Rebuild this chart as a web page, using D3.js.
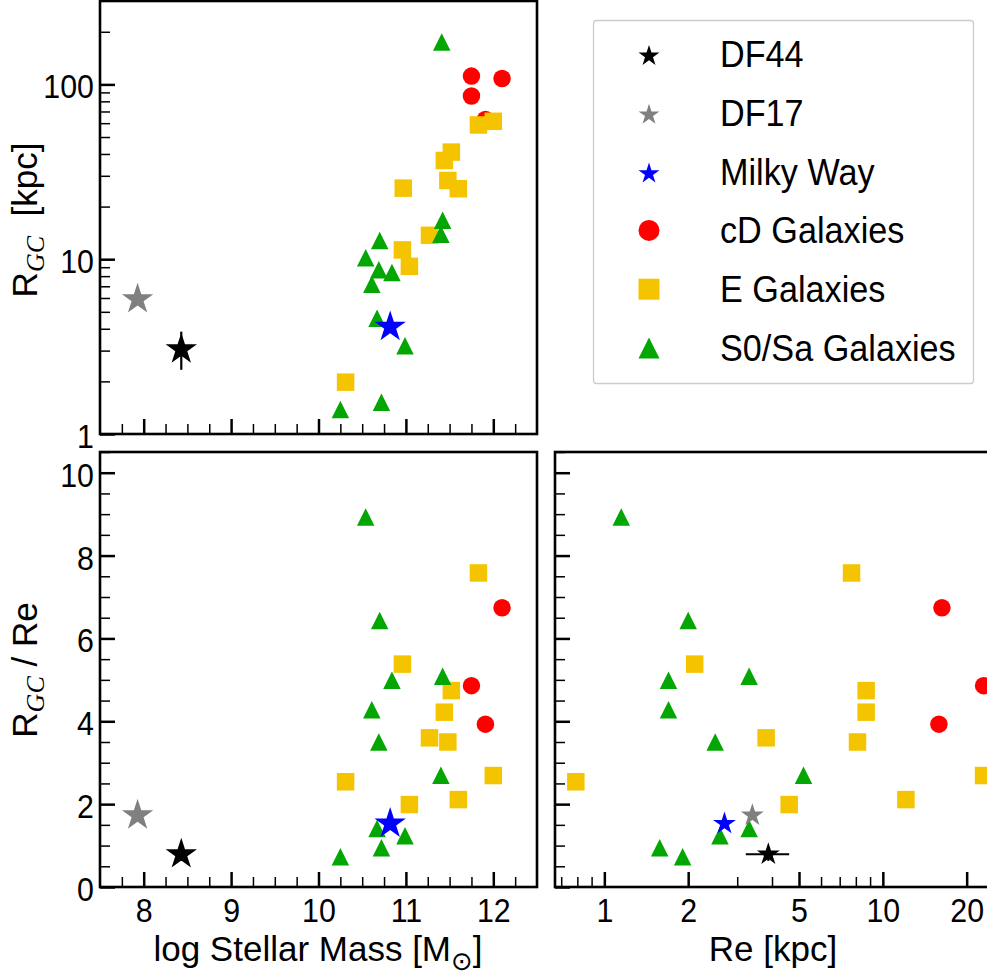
<!DOCTYPE html>
<html><head><meta charset="utf-8">
<script src="https://cdn.jsdelivr.net/npm/d3@7"></script>
<style>
body{margin:0;background:#fff}
svg{display:block}
text{font-family:"Liberation Sans",Arial,sans-serif;fill:#000}
</style>
</head><body>
<svg id="c" width="987" height="977"></svg>
<script>
// ---------------- DATA ----------------
// cD galaxies
const cdMass  = [11.75, 11.75, 12.10, 11.91];
const cdRgc   = [111.6, 85.8, 108.0, 63.0];
const cdRatio = [4.86, null, 6.74, 3.93];
const cdRe    = [23.0, null, 16.3, 15.9];
// E galaxies
const eMass  = [10.31, 10.97, 10.96, 11.04, 11.27, 11.44, 11.52, 11.48, 11.60, 11.83, 12.00];
const eRgc   = [1.98, 25.5, 11.3, 9.1, 13.7, 36.7, 41.0, 28.2, 25.3, 58.6, 61.5];
const eRatio = [2.54, null, 5.38, 1.99, 3.60, 4.22, 4.74, 3.50, 2.11, 7.58, 2.69];
const eRe    = [0.79, null, 2.11, 4.61, 3.81, 8.71, 8.71, 8.11, 12.1, 7.72, 23.0];
// S0/Sa galaxies
const sMass  = [11.41, 11.42, 11.40, 10.70, 10.54, 10.69, 10.84, 10.61, 10.67, 10.99, 10.72, 10.25];
const sRgc   = [175, 16.7, 13.9, 12.8, 10.2, 8.7, 8.4, 7.2, 4.6, 3.2, 1.52, 1.38];
const sRatio = [null, 5.09, 2.70, 6.43, 8.93, 3.50, 4.99, 4.28, 1.41, 1.24, 0.95, 0.73];
const sRe    = [null, 3.31, 5.19, 2.00, 1.15, 2.50, 1.70, 1.70, 3.31, 2.60, 1.58, 1.91];
// Individual objects: DF44, DF17, Milky Way
const starNames  = ["DF44", "DF17", "Milky Way"];
const starMass   = [8.43, 7.93, 10.82];
const starRgc    = [3.05, 5.9, 4.1];
const starRatio  = [0.79, 1.73, 1.53];
const starRe     = [3.88, 3.40, 2.70];
const df44RgcErr   = [2.33, 3.85];
const df44RatioErr = [0.63, 0.96];
const df44ReErr    = [3.22, 4.61];
// Ticks
const massMajor = [8, 9, 10, 11, 12];
const massMinor = [7.75, 8.25, 8.5, 8.75, 9.25, 9.5, 9.75, 10.25, 10.5, 10.75, 11.25, 11.5, 11.75, 12.25];
const rgcMajor = [1, 10, 100];
const rgcMinor = [2, 3, 4, 5, 6, 7, 8, 9, 20, 30, 40, 50, 60, 70, 80, 90, 200];
const ratioMajor = [0, 2, 4, 6, 8, 10];
const ratioMinor = [0.5, 1, 1.5, 2.5, 3, 3.5, 4.5, 5, 5.5, 6.5, 7, 7.5, 8.5, 9, 9.5, 10.5];
const reMajor = [1, 2, 5, 10, 20];
const reMinor = [0.7, 0.8, 0.9, 3, 4, 6, 7, 8, 9];
const legendLabels = ["DF44", "DF17", "Milky Way", "cD Galaxies", "E Galaxies", "S0/Sa Galaxies"];

// ---------------- STYLE ----------------
const C = {df44: "#000000", df17: "#808080", mw: "#0000ff", cd: "#ff0000", e: "#f5c400", s: "#04a604"};
const starColors = [C.df44, C.df17, C.mw];
const FONT = '"Liberation Sans",Arial,sans-serif';

const svg = d3.select("#c");

const xMass  = d3.scaleLinear().domain([7.5, 12.5]).range([100, 537]);
const yRgc   = d3.scaleLog().domain([1, 300]).range([434, 1]);
const yRatio = d3.scaleLinear().domain([0, 10.5]).range([887, 452]);
const xRe    = d3.scaleLog().domain([0.665, 25.7]).range([555, 997]);

const MS = 17.5; // marker size
const KA = 0.8908130915292852;
const circleSym = d3.symbol().type(d3.symbolCircle).size(Math.PI * (MS/2) * (MS/2));
const squareSym = d3.symbol().type(d3.symbolSquare).size(MS * MS);
function triPath(s){ const h = s/2; return `M0,${-h}L${h},${h}L${-h},${h}Z`; }
function starSym(R){ return d3.symbol().type(d3.symbolStar).size(R*R/KA)(); }

function panel(id, xs, ys, xv, yv, starR, err) {
  const [x0, x1] = xs.range(); const [y0, y1] = ys.range();
  svg.append("clipPath").attr("id", id).append("rect")
    .attr("x", x0).attr("y", Math.min(y0,y1)).attr("width", x1 - x0).attr("height", Math.abs(y0 - y1));
  const g = svg.append("g").attr("clip-path", `url(#${id})`);
  const pts = (xa, ya) => xa.map((d, i) => [d, ya[i]]).filter(p => p[0] != null && p[1] != null);
  g.selectAll(".cd").data(pts(xv.cd, yv.cd)).join("path")
    .attr("d", circleSym).attr("fill", C.cd)
    .attr("transform", d => `translate(${xs(d[0])},${ys(d[1])})`);
  g.selectAll(".e").data(pts(xv.e, yv.e)).join("path")
    .attr("d", squareSym).attr("fill", C.e)
    .attr("transform", d => `translate(${xs(d[0])},${ys(d[1])})`);
  g.selectAll(".s").data(pts(xv.s, yv.s)).join("path")
    .attr("d", triPath(MS)).attr("fill", C.s)
    .attr("transform", d => `translate(${xs(d[0])},${ys(d[1])})`);
  const ex = xv.star[0], ey = yv.star[0];
  if (err.y) g.append("line").attr("x1", xs(ex)).attr("x2", xs(ex)).attr("y1", ys(err.y[0])).attr("y2", ys(err.y[1]))
      .attr("stroke", C.df44).attr("stroke-width", 2.2);
  if (err.x) g.append("line").attr("y1", ys(ey)).attr("y2", ys(ey)).attr("x1", xs(err.x[0])).attr("x2", xs(err.x[1]))
      .attr("stroke", C.df44).attr("stroke-width", 2.2);
  [2, 1, 0].forEach(i => {
    g.append("path").attr("d", starSym(starR)).attr("fill", starColors[i])
      .attr("transform", `translate(${xs(xv.star[i])},${ys(yv.star[i])})`);
  });
}

const TF = 33, TS = 0.92; // tick font size, horizontal squeeze
function ticks(xs, ys, xMaj, xMin, yMaj, yMin, xLab, yLab) {
  const x0 = xs.range()[0]; const yb = ys.range()[0];
  const gx = svg.append("g").attr("transform", `translate(0,${yb})`);
  gx.call(d3.axisBottom(xs).tickValues(xMin).tickSize(-10).tickFormat(""));
  gx.selectAll(".tick line").attr("stroke-width", 1.5);
  const gx2 = svg.append("g").attr("transform", `translate(0,${yb})`);
  gx2.call(d3.axisBottom(xs).tickValues(xMaj).tickSize(-15).tickFormat(xLab ? d3.format("") : ""));
  gx2.selectAll(".tick line").attr("stroke-width", 2.5);
  gx2.selectAll("text").attr("y", 0).attr("dy", null).attr("transform", `translate(0,35) scale(${TS},1)`)
    .style("font-size", TF + "px").style("font-family", FONT);
  [gx, gx2].forEach(a => a.select(".domain").remove());
  const gy = svg.append("g").attr("transform", `translate(${x0},0)`);
  gy.call(d3.axisLeft(ys).tickValues(yMin).tickSize(-10).tickFormat(""));
  gy.selectAll(".tick line").attr("stroke-width", 1.5);
  const gy2 = svg.append("g").attr("transform", `translate(${x0},0)`);
  gy2.call(d3.axisLeft(ys).tickValues(yMaj).tickSize(-15).tickFormat(yLab ? d3.format("") : ""));
  gy2.selectAll(".tick line").attr("stroke-width", 2.5);
  gy2.selectAll("text").attr("x", 0).attr("dy", null).attr("transform", `translate(-6,13.5) scale(${TS},1)`)
    .style("font-size", TF + "px").style("font-family", FONT);
  [gy, gy2].forEach(a => a.select(".domain").remove());
  svg.selectAll(".tick text").attr("fill", "#000");
}

function frame(xs, ys) {
  const [x0, x1] = xs.range(); const [y0, y1] = ys.range();
  svg.append("rect").attr("x", x0).attr("y", Math.min(y0, y1)).attr("width", x1 - x0).attr("height", Math.abs(y0 - y1))
    .attr("fill", "none").attr("stroke", "#000").attr("stroke-width", 2.6);
}

// Top-left: log mass vs R_GC
panel("cp1", xMass, yRgc,
  {cd: cdMass, e: eMass, s: sMass, star: starMass},
  {cd: cdRgc, e: eRgc, s: sRgc, star: starRgc}, 16.5, {y: df44RgcErr});
ticks(xMass, yRgc, massMajor, massMinor, rgcMajor, rgcMinor, false, true);
frame(xMass, yRgc);

// Bottom-left: log mass vs R_GC/Re
panel("cp2", xMass, yRatio,
  {cd: cdMass, e: eMass, s: sMass, star: starMass},
  {cd: cdRatio, e: eRatio, s: sRatio, star: starRatio}, 16.5, {y: df44RatioErr});
ticks(xMass, yRatio, massMajor, massMinor, ratioMajor, ratioMinor, true, true);
frame(xMass, yRatio);

// Bottom-right: Re vs R_GC/Re
panel("cp3", xRe, yRatio,
  {cd: cdRe, e: eRe, s: sRe, star: starRe},
  {cd: cdRatio, e: eRatio, s: sRatio, star: starRatio}, 12, {y: df44RatioErr, x: df44ReErr});
ticks(xRe, yRatio, reMajor, reMinor, ratioMajor, ratioMinor, true, false);
frame(xRe, yRatio);

// Axis labels
function yLabel(cy, rest) {
  const t = svg.append("text").attr("transform", `translate(37,${cy}) rotate(-90)`)
    .attr("text-anchor", "middle").style("font-size", "35px");
  t.append("tspan").text("R");
  t.append("tspan").style("font-family", '"Liberation Serif","DejaVu Serif",serif').style("font-style", "italic")
    .style("font-size", "26px").attr("dy", 7).text("GC");
  t.append("tspan").attr("dy", -7).text(rest);
}
yLabel(220, "\u00a0\u00a0[kpc]");
yLabel(670, "\u00a0/\u00a0Re");

const xl = svg.append("text").attr("x", 318).attr("y", 961).attr("text-anchor", "middle").style("font-size", "35px");
xl.append("tspan").text("log Stellar Mass [M");
xl.append("tspan").style("font-family", '"DejaVu Sans",sans-serif').style("font-size", "26px").attr("dy", 9).text("\u2299");
xl.append("tspan").attr("dy", -9).text("]");

svg.append("text").attr("x", 773).attr("y", 961).attr("text-anchor", "middle").style("font-size", "35px").text("Re [kpc]");

// Legend
const lg = svg.append("g");
lg.append("rect").attr("x", 593.5).attr("y", 20.5).attr("width", 380).attr("height", 363).attr("rx", 3)
  .attr("fill", "#fff").attr("stroke", "#cccccc").attr("stroke-width", 1.3);
const legendShapes = [
  starSym(11), starSym(11), starSym(11),
  d3.symbol().type(d3.symbolCircle).size(Math.PI * 10.5 * 10.5)(),
  d3.symbol().type(d3.symbolSquare).size(21 * 21)(),
  triPath(21)
];
const legendColors = [C.df44, C.df17, C.mw, C.cd, C.e, C.s];
const rowY = d3.scaleLinear().domain([0, 5]).range([54, 348]);
legendLabels.forEach((lab, i) => {
  lg.append("path").attr("d", legendShapes[i]).attr("fill", legendColors[i])
    .attr("transform", `translate(649,${rowY(i) + (i < 3 ? 2 : 0)})`);
  lg.append("text").attr("transform", `translate(720,${rowY(i) + 13}) scale(0.95,1)`)
    .style("font-size", "36px").text(lab);
});
</script>
</body></html>
